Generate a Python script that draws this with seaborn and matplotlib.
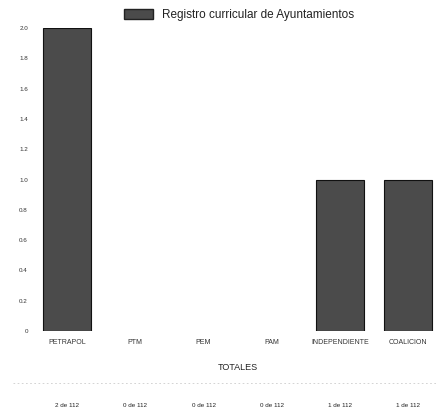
import matplotlib
matplotlib.use("Agg")
import numpy as np
import pandas as pd
import matplotlib.pyplot as plt
from matplotlib.patches import Patch
import seaborn as sns

# Data
partidos = ["PETRAPOL", "PTM", "PEM", "PAM", "INDEPENDIENTE", "COALICION"]
registros = [2, 0, 0, 0, 1, 1]
total_ayuntamientos = 112
y_ticks = [0, 0.2, 0.4, 0.6, 0.8, 1.0, 1.2, 1.4, 1.6, 1.8, 2.0]

BAR = "#4b4b4b"
TXT = "#333333"

sns.set_theme(style="white")
plt.rcParams["font.family"] = ["Liberation Sans", "DejaVu Sans"]

df = pd.DataFrame({"partido": partidos, "registros": registros})

fig = plt.figure(figsize=(4.4, 4.17), dpi=100)
ax = fig.add_axes([0.095, 0.206, 0.898, 0.727])
sns.barplot(data=df, x="partido", y="registros", color=BAR, width=0.7,
            edgecolor="#111111", linewidth=0.8, saturation=1, ax=ax)
# empty bars leave no trace in the original
for bar, v in zip(ax.patches, registros):
    if v == 0:
        bar.set_linewidth(0)

ax.set_ylim(0, 2.0)
ax.set_xlim(-0.37, 5.42)
ax.set_yticks(y_ticks)
ax.set_yticklabels(["0" if t == 0 else f"{t:.1f}" for t in y_ticks], fontsize=4.5, color=TXT)
ax.tick_params(axis="x", labelsize=5, colors=TXT, length=0, pad=6)
ax.tick_params(axis="y", length=0, pad=10)
ax.set_xlabel("")
ax.set_ylabel("")
for s in ax.spines.values():
    s.set_visible(False)

ax.legend(handles=[Patch(facecolor=BAR, edgecolor="#222222", label="Registro curricular de Ayuntamientos")],
          loc="lower center", bbox_to_anchor=(0.5, 1.0), frameon=False, fontsize=8.5,
          handlelength=2.4, handleheight=1.0, borderaxespad=0.2, labelcolor="#222222")

# totals row below the axis
fig.text(0.095 + 0.898 * (2.5 + 0.37) / 5.79, 1 - 367 / 417, "TOTALES",
         ha="center", va="center", fontsize=6.5, color="#222222")
fig.add_artist(plt.Line2D([0.03, 0.99], [1 - 383 / 417] * 2, color="#cccccc",
                          lw=0.6, ls=(0, (2, 3))))
for i, n in enumerate(registros):
    ax.annotate(f"{n} de {total_ayuntamientos}", xy=(i, 0), xycoords="data",
                xytext=(0, -405 + 331), textcoords="offset pixels",
                ha="center", va="center", fontsize=4.5, color="#222222",
                annotation_clip=False)

fig.savefig("out.png", dpi=100, facecolor="white")
